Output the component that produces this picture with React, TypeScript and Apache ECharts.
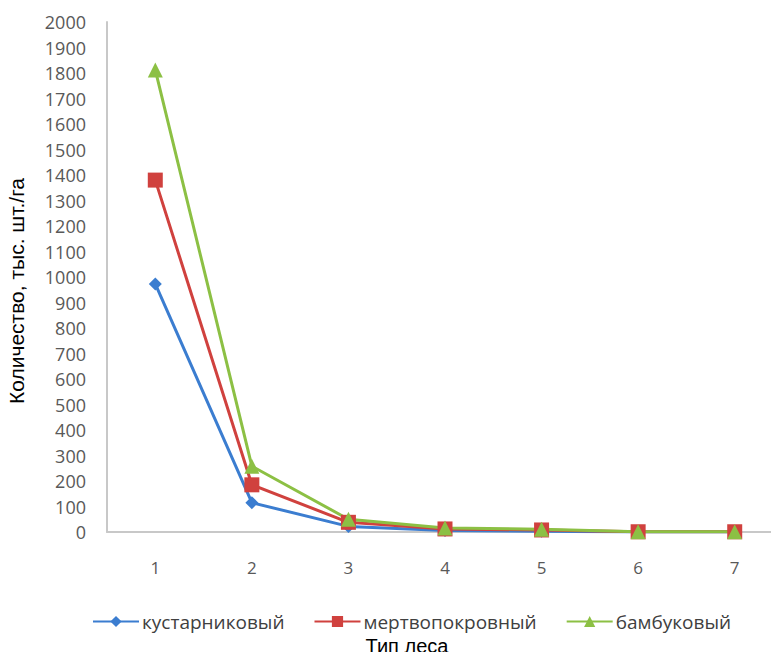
import React, { useEffect, useRef } from "react";
import * as echarts from "echarts";

const categories = ["1", "2", "3", "4", "5", "6", "7"];
const shrubby = [973, 115, 22, 6, 3, 0, 0];
const deadCover = [1380, 185, 38, 12, 8, 1, 1];
const bamboo = [1812, 258, 50, 16, 11, 1, 1];
const seriesNames = ["кустарниковый", "мертвопокровный", "бамбуковый"];
const xTitle = "Тип леса";
const yTitle = "Количество, тыс. шт./га";

export default function App() {
  const ref = useRef<HTMLDivElement>(null);
  useEffect(() => {
    const chart = echarts.init(ref.current!, null, { renderer: "svg" });
    const labelFont = "'Open Sans', 'Noto Sans', sans-serif";
    const nameFont = "'Liberation Sans', Arial, sans-serif";
    const mk = (name: string, data: number[], color: string, symbol: string, size: number) => ({
      name,
      type: "line",
      data,
      symbol,
      symbolSize: size,
      showAllSymbol: true,
      lineStyle: { color, width: 3 },
      itemStyle: { color },
    });
    chart.setOption({
      animation: false,
      backgroundColor: "#ffffff",
      grid: { left: 107, top: 22, bottom: 128, width: 676, containLabel: false, outerBoundsMode: "none" },
      legend: {
        left: 87,
        top: 607,
        itemWidth: 46,
        itemHeight: 14,
        itemGap: 29,
        textStyle: { fontFamily: labelFont, fontSize: 19, color: "#404040", padding: [0, 0, 0, -2] },
        data: seriesNames,
      },
      xAxis: {
        type: "category",
        data: categories,
        boundaryGap: true,
        name: xTitle,
        nameLocation: "middle",
        nameGap: 104,
        nameTextStyle: { fontFamily: nameFont, fontSize: 20, color: "#000", padding: [0, 76, 0, 0] },
        axisLine: { lineStyle: { color: "#c8c8c8", width: 2 } },
        axisTick: { show: false },
        axisLabel: { margin: 27, fontFamily: labelFont, fontSize: 17, color: "#595959" },
        splitLine: { show: false },
      },
      yAxis: {
        type: "value",
        min: 0,
        max: 2000,
        interval: 100,
        name: yTitle,
        nameLocation: "middle",
        nameGap: 80,
        nameTextStyle: { fontFamily: nameFont, fontSize: 21, color: "#000", padding: [0, 28, 0, 0] },
        axisLine: { show: true, lineStyle: { color: "#c8c8c8", width: 2 } },
        axisTick: { show: false },
        axisLabel: {
          margin: 21,
          fontFamily: labelFont,
          fontSize: 18,
          color: "#595959",
          formatter: (v: number) => String(v),
        },
        splitLine: { show: false },
      },
      series: [
        mk(seriesNames[0], shrubby, "#3b7dd0", "diamond", 13),
        mk(seriesNames[1], deadCover, "#d0413e", "rect", 15),
        mk(seriesNames[2], bamboo, "#8cc044", "triangle", 15),
      ],
    });
    return () => chart.dispose();
  }, []);
  return <div ref={ref} style={{ width: 779, height: 660, margin: -8 }} />;
}
